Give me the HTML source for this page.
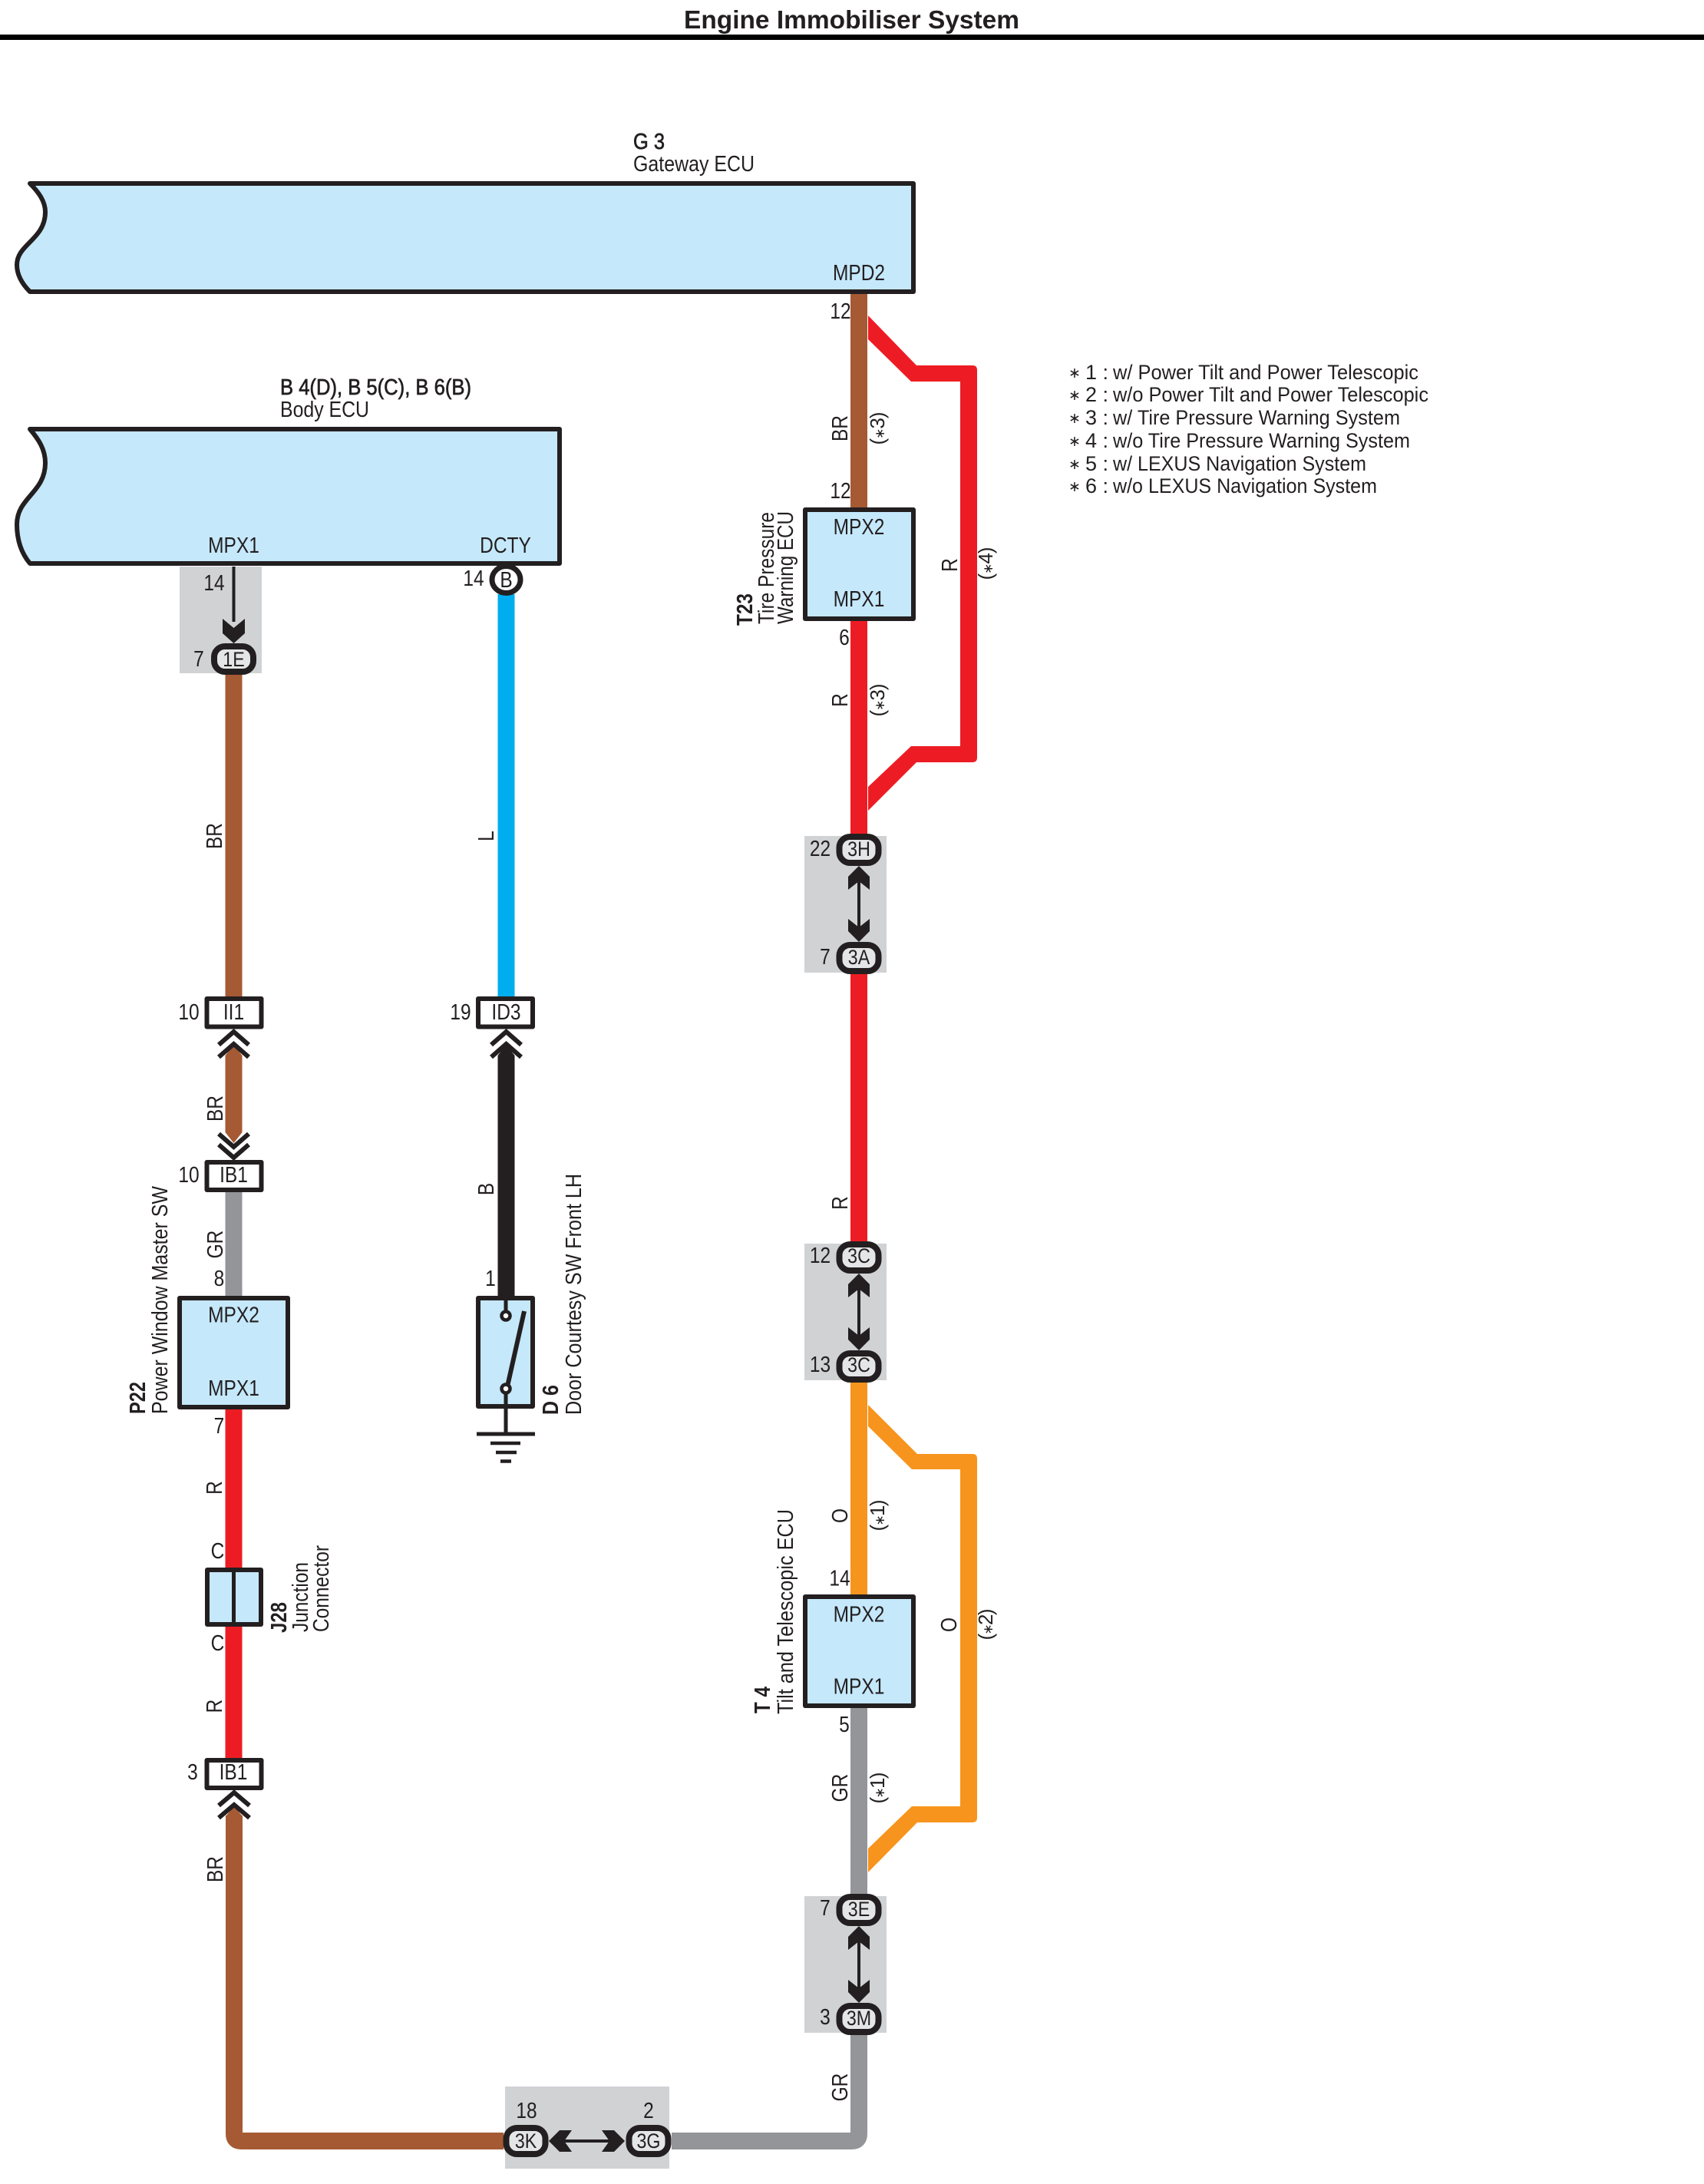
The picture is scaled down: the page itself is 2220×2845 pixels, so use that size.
<!DOCTYPE html>
<html><head><meta charset="utf-8"><style>
html,body{margin:0;padding:0;background:#fff}
svg{display:block}
text{font-family:"Liberation Sans",Arial,sans-serif;font-size:28.5px;fill:#231f20}
.m{text-anchor:middle;transform-box:fill-box;transform-origin:center;transform:scaleX(.86)}
.p{font-size:27px}
.s{text-anchor:middle;font-size:26px}
.s tspan{font-size:17px}
.b{font-weight:bold}
.sb{stroke:#231f20;stroke-width:.7px}
.l{font-size:27px}
.st{font-size:19px}
</style></head><body>
<svg xmlns="http://www.w3.org/2000/svg" width="2220" height="2845" viewBox="0 0 2220 2845">
<rect width="2220" height="2845" fill="#fff"/>
<text x="891" y="37" class="b" style="font-size:33.5px" textLength="437" lengthAdjust="spacingAndGlyphs">Engine Immobiliser System</text>
<rect x="0" y="45" width="2220" height="7" fill="#000"/>

<!-- grey zones -->
<g fill="#d0d2d4">
<rect x="234" y="738" width="107" height="139"/>
<rect x="1048" y="1089" width="107" height="178"/>
<rect x="1048" y="1620" width="107" height="178"/>
<rect x="1048" y="2470" width="107" height="178"/>
<rect x="658" y="2718" width="214" height="107"/>
</g>

<!-- wires -->
<g fill="none" stroke-width="22">
<path d="M304.5 879V1298" stroke="#a65a34"/>
<path d="M304.5 1552V1690" stroke="#939598"/>
<path d="M304.5 1835V2290" stroke="#ed1c24"/>
<path d="M659.5 774V1298" stroke="#00aeef"/>
<path d="M659.5 1375V1690" stroke="#231f20"/>
<path d="M1119 383V663" stroke="#a65a34"/>
<path d="M1119 808V1087M1119 1269V1618" stroke="#ed1c24"/>
<path d="M1119 1799V2079" stroke="#f7941d"/>
<path d="M1119 2225V2468M1119 2650V2780Q1119 2789 1110 2789H875" stroke="#939598"/>
<path d="M305 2365V2780Q305 2789 314 2789H656" stroke="#a65a34"/>
</g>
<path d="M293.5 1375L304.5 1361L315.5 1375V1475L304.5 1489L293.5 1475Z" fill="#a65a34"/>
<path d="M294 2366L305 2353L316 2366V2380H294Z" fill="#a65a34"/>
<path d="M648.5 1375L659.5 1361L670.5 1375V1385H648.5Z" fill="#231f20"/>
<path d="M1131 411L1194 476H1267Q1273 476 1273 482V987Q1273 993 1267 993H1194L1131 1056V1025L1187 972H1251V497H1187L1131 442Z" fill="#ed1c24"/>
<path d="M1131 1830L1195 1894H1267Q1273 1894 1273 1900V2368Q1273 2374 1267 2374H1195L1131 2439V2408L1188 2353H1251V1914H1188L1131 1858Z" fill="#f7941d"/>

<!-- ECU boxes -->
<g fill="#c5e8fb" stroke="#231f20" stroke-width="6" stroke-linejoin="round">
<path d="M39 239H1190V380H39C29 370 22 358 22 345C22 318 59 312 59 276C59 262 50 250 39 239Z"/>
<path d="M39 559H729V734H39C29 722 22 705 22 683C22 648 59 642 59 603C59 585 50 572 39 559Z"/>
<rect x="1049" y="664" width="141" height="142"/>
<rect x="1049" y="2080" width="141" height="142"/>
<rect x="234" y="1691" width="141" height="142"/>
<rect x="623" y="1691" width="71" height="141"/>
<rect x="270" y="2045" width="70" height="71"/>
</g>
<path d="M304.5 2042V2119" stroke="#231f20" stroke-width="5"/>

<!-- switch and ground -->
<g stroke="#231f20" fill="none">
<path d="M659 1688V1708" stroke-width="5"/>
<path d="M659 1815V1868" stroke-width="5"/>
<path d="M661 1806L683 1708" stroke-width="6"/>
<circle cx="659" cy="1714" r="5.5" fill="#fff" stroke-width="4.5"/>
<circle cx="659" cy="1809" r="5.5" fill="#fff" stroke-width="4.5"/>
<path d="M621 1868H697" stroke-width="5"/>
<path d="M639 1880H678" stroke-width="4.5"/>
<path d="M646 1892H673" stroke-width="4.5"/>
<path d="M652 1903.5H666" stroke-width="4.5"/>
</g>

<!-- rect connectors -->
<g fill="#fff" stroke="#231f20" stroke-width="6" stroke-linejoin="round">
<rect x="269.500" y="1301" width="71" height="36.500"/>
<rect x="269.500" y="1514" width="71" height="36"/>
<rect x="623" y="1301" width="71" height="36.500"/>
<rect x="269.500" y="2293" width="71" height="36"/>
</g>
<!-- double chevrons -->
<g fill="none" stroke="#231f20" stroke-width="6">
<path d="M285 1361L304.500 1344L324 1361M285 1377L304.500 1360L324 1377"/>
<path d="M285 1491L304.500 1508L324 1491M285 1477L304.500 1494L324 1477"/>
<path d="M640 1361L659.500 1344L679 1361M640 1377L659.500 1360L679 1377"/>
<path d="M285 2352L305 2335L325 2352M285 2368L305 2351L325 2368"/>
</g>

<!-- pill connector arrows -->
<g fill="#231f20" stroke="#231f20">
<path d="M304.500 738V810" stroke-width="4"/>
<path d="M290 806L304.500 818L319 806V825L304.500 838L290 825Z" stroke="none"/>
<path d="M1119 1135V1220M1119 1665V1750M1119 2515V2600M720 2789H810" stroke-width="4"/>
<g stroke="none">
<path d="M1119 1128L1133 1142V1159L1119 1148L1105 1159V1142Z"/>
<path d="M1119 1227L1133 1213V1197L1119 1208L1105 1197V1213Z"/>
<path d="M1119 1659L1133 1673V1690L1119 1679L1105 1690V1673Z"/>
<path d="M1119 1759L1133 1745V1729L1119 1740L1105 1729V1745Z"/>
<path d="M1119 2509L1133 2523V2540L1119 2529L1105 2540V2523Z"/>
<path d="M1119 2609L1133 2595V2579L1119 2590L1105 2579V2595Z"/>
<path d="M715 2789L729 2775H745L735 2789L745 2803H729Z"/>
<path d="M814 2789L800 2775H784L794 2789L784 2803H800Z"/>
</g>
</g>

<!-- pills -->
<g fill="#e4e5e6" stroke="#231f20" stroke-width="8">
<rect x="279" y="842" width="51" height="33" rx="14"/>
<rect x="1093.500" y="1090" width="51" height="34" rx="14"/>
<rect x="1093.500" y="1231" width="51" height="34" rx="14"/>
<rect x="1093.500" y="1621" width="51" height="34" rx="14"/>
<rect x="1093.500" y="1763" width="51" height="34" rx="14"/>
<rect x="1093.500" y="2471" width="51" height="34" rx="14"/>
<rect x="1093.500" y="2613" width="51" height="34" rx="14"/>
<rect x="659.500" y="2772" width="51" height="34" rx="14"/>
<rect x="819.500" y="2772" width="51" height="34" rx="14"/>
</g>
<ellipse cx="659.500" cy="755" rx="18.500" ry="17.500" fill="#fff" stroke="#231f20" stroke-width="7"/>

<!-- horizontal labels -->
<text x="825" y="194" class="sb" textLength="41" lengthAdjust="spacingAndGlyphs">G 3</text>
<text x="825" y="223" textLength="158" lengthAdjust="spacingAndGlyphs">Gateway ECU</text>
<text x="365" y="514" class="sb" textLength="249" lengthAdjust="spacingAndGlyphs">B 4(D), B 5(C), B 6(B)</text>
<text x="365" y="543" textLength="116" lengthAdjust="spacingAndGlyphs">Body ECU</text>
<text x="1119" y="365" class="m">MPD2</text>
<text x="304.500" y="720" class="m">MPX1</text>
<text x="658.500" y="720" class="m">DCTY</text>
<text x="279" y="769" class="m">14</text>
<text x="259" y="868" class="m">7</text>
<text x="304.500" y="868" class="m p">1E</text>
<text x="617" y="763" class="m">14</text>
<text x="659.500" y="765" class="m">B</text>
<text x="1095" y="415" class="m">12</text>
<text x="1095" y="649" class="m">12</text>
<text x="1119" y="696" class="m">MPX2</text>
<text x="1119" y="790" class="m">MPX1</text>
<text x="1100" y="840" class="m">6</text>
<text x="1068.500" y="1115" class="m">22</text>
<text x="1119" y="1115" class="m p">3H</text>
<text x="1075" y="1256" class="m">7</text>
<text x="1119" y="1256" class="m p">3A</text>
<text x="1068.500" y="1645" class="m">12</text>
<text x="1119" y="1645" class="m p">3C</text>
<text x="1068.500" y="1787" class="m">13</text>
<text x="1119" y="1787" class="m p">3C</text>
<text x="1094" y="2065.500" class="m">14</text>
<text x="1119" y="2112.500" class="m">MPX2</text>
<text x="1119" y="2206.500" class="m">MPX1</text>
<text x="1100" y="2256" class="m">5</text>
<text x="1075" y="2495" class="m">7</text>
<text x="1119" y="2496" class="m p">3E</text>
<text x="1075" y="2637" class="m">3</text>
<text x="1119" y="2638" class="m p">3M</text>
<text x="686" y="2759" class="m">18</text>
<text x="845" y="2759" class="m">2</text>
<text x="685" y="2798" class="m p">3K</text>
<text x="845" y="2798" class="m p">3G</text>
<text x="246" y="1328" class="m">10</text>
<text x="304.500" y="1328" class="m">II1</text>
<text x="600" y="1328" class="m">19</text>
<text x="659.500" y="1328" class="m">ID3</text>
<text x="246" y="1540" class="m">10</text>
<text x="304.500" y="1540" class="m">IB1</text>
<text x="285.500" y="1675" class="m">8</text>
<text x="639" y="1675" class="m">1</text>
<text x="304.500" y="1722.500" class="m">MPX2</text>
<text x="304.500" y="1818" class="m">MPX1</text>
<text x="285.500" y="1867" class="m">7</text>
<text x="283.500" y="2030" class="m">C</text>
<text x="283.500" y="2150" class="m">C</text>
<text x="251" y="2318" class="m">3</text>
<text x="304" y="2318" class="m">IB1</text>

<!-- rotated wire labels -->
<g transform="rotate(-90 1104 558)"><text x="1104" y="558" class="m">BR</text></g>
<text transform="rotate(-90 1152 558)" x="1152" y="558" class="s" textLength="43">(<tspan>∗</tspan>3)</text>
<g transform="rotate(-90 1247 736)"><text x="1247" y="736" class="m">R</text></g>
<text transform="rotate(-90 1293 734)" x="1293" y="734" class="s" textLength="43">(<tspan>∗</tspan>4)</text>
<g transform="rotate(-90 1104 912)"><text x="1104" y="912" class="m">R</text></g>
<text transform="rotate(-90 1152 912)" x="1152" y="912" class="s" textLength="43">(<tspan>∗</tspan>3)</text>
<g transform="rotate(-90 1104 1567)"><text x="1104" y="1567" class="m">R</text></g>
<g transform="rotate(-90 1104 1974.500)"><text x="1104" y="1974.500" class="m">O</text></g>
<text transform="rotate(-90 1152 1974)" x="1152" y="1974" class="s" textLength="41">(<tspan>∗</tspan>1)</text>
<g transform="rotate(-90 1246 2116.500)"><text x="1246" y="2116.500" class="m">O</text></g>
<text transform="rotate(-90 1293 2116)" x="1293" y="2116" class="s" textLength="41">(<tspan>∗</tspan>2)</text>
<g transform="rotate(-90 1104 2329)"><text x="1104" y="2329" class="m">GR</text></g>
<text transform="rotate(-90 1152 2329)" x="1152" y="2329" class="s" textLength="41">(<tspan>∗</tspan>1)</text>
<g transform="rotate(-90 1104 2719)"><text x="1104" y="2719" class="m">GR</text></g>
<g transform="rotate(-90 289 1089)"><text x="289" y="1089" class="m">BR</text></g>
<g transform="rotate(-90 643 1089)"><text x="643" y="1089" class="m">L</text></g>
<g transform="rotate(-90 290 1444)"><text x="290" y="1444" class="m">BR</text></g>
<g transform="rotate(-90 290 1621)"><text x="290" y="1621" class="m">GR</text></g>
<g transform="rotate(-90 643 1549)"><text x="643" y="1549" class="m">B</text></g>
<g transform="rotate(-90 289 1938)"><text x="289" y="1938" class="m">R</text></g>
<g transform="rotate(-90 289 2222.500)"><text x="289" y="2222.500" class="m">R</text></g>
<g transform="rotate(-90 290 2435)"><text x="290" y="2435" class="m">BR</text></g>

<!-- rotated component names -->
<text transform="rotate(-90 980 815)" x="980" y="815" class="b" textLength="42" lengthAdjust="spacingAndGlyphs">T23</text>
<text transform="rotate(-90 1008 813)" x="1008" y="813" textLength="146" lengthAdjust="spacingAndGlyphs">Tire Pressure</text>
<text transform="rotate(-90 1033 813)" x="1033" y="813" textLength="147" lengthAdjust="spacingAndGlyphs">Warning ECU</text>
<text transform="rotate(-90 1003 2232)" x="1003" y="2232" class="b" textLength="35" lengthAdjust="spacingAndGlyphs">T 4</text>
<text transform="rotate(-90 1033 2233)" x="1033" y="2233" textLength="267" lengthAdjust="spacingAndGlyphs">Tilt and Telescopic ECU</text>
<text transform="rotate(-90 189 1842)" x="189" y="1842" class="b" textLength="42" lengthAdjust="spacingAndGlyphs">P22</text>
<text transform="rotate(-90 218 1842)" x="218" y="1842" textLength="297" lengthAdjust="spacingAndGlyphs">Power Window Master SW</text>
<text transform="rotate(-90 727 1843)" x="727" y="1843" class="b" textLength="39" lengthAdjust="spacingAndGlyphs">D 6</text>
<text transform="rotate(-90 757 1843)" x="757" y="1843" textLength="314" lengthAdjust="spacingAndGlyphs">Door Courtesy SW Front LH</text>
<text transform="rotate(-90 373 2127)" x="373" y="2127" class="b" textLength="40" lengthAdjust="spacingAndGlyphs">J28</text>
<text transform="rotate(-90 401 2126)" x="401" y="2126" textLength="91" lengthAdjust="spacingAndGlyphs">Junction</text>
<text transform="rotate(-90 428 2126)" x="428" y="2126" textLength="113" lengthAdjust="spacingAndGlyphs">Connector</text>

<!-- legend -->
<g>
<text x="1392" y="492" class="st">∗</text><text x="1414" y="494" class="l">1 :</text><text x="1450" y="494" class="l" textLength="398" lengthAdjust="spacingAndGlyphs">w/ Power Tilt and Power Telescopic</text>
<text x="1392" y="521" class="st">∗</text><text x="1414" y="523" class="l">2 :</text><text x="1450" y="523" class="l" textLength="411" lengthAdjust="spacingAndGlyphs">w/o Power Tilt and Power Telescopic</text>
<text x="1392" y="551" class="st">∗</text><text x="1414" y="553" class="l">3 :</text><text x="1450" y="553" class="l" textLength="374" lengthAdjust="spacingAndGlyphs">w/ Tire Pressure Warning System</text>
<text x="1392" y="581" class="st">∗</text><text x="1414" y="583" class="l">4 :</text><text x="1450" y="583" class="l" textLength="387" lengthAdjust="spacingAndGlyphs">w/o Tire Pressure Warning System</text>
<text x="1392" y="611" class="st">∗</text><text x="1414" y="613" class="l">5 :</text><text x="1450" y="613" class="l" textLength="330" lengthAdjust="spacingAndGlyphs">w/ LEXUS Navigation System</text>
<text x="1392" y="640" class="st">∗</text><text x="1414" y="642" class="l">6 :</text><text x="1450" y="642" class="l" textLength="344" lengthAdjust="spacingAndGlyphs">w/o LEXUS Navigation System</text>
</g>
</svg>
</body></html>
